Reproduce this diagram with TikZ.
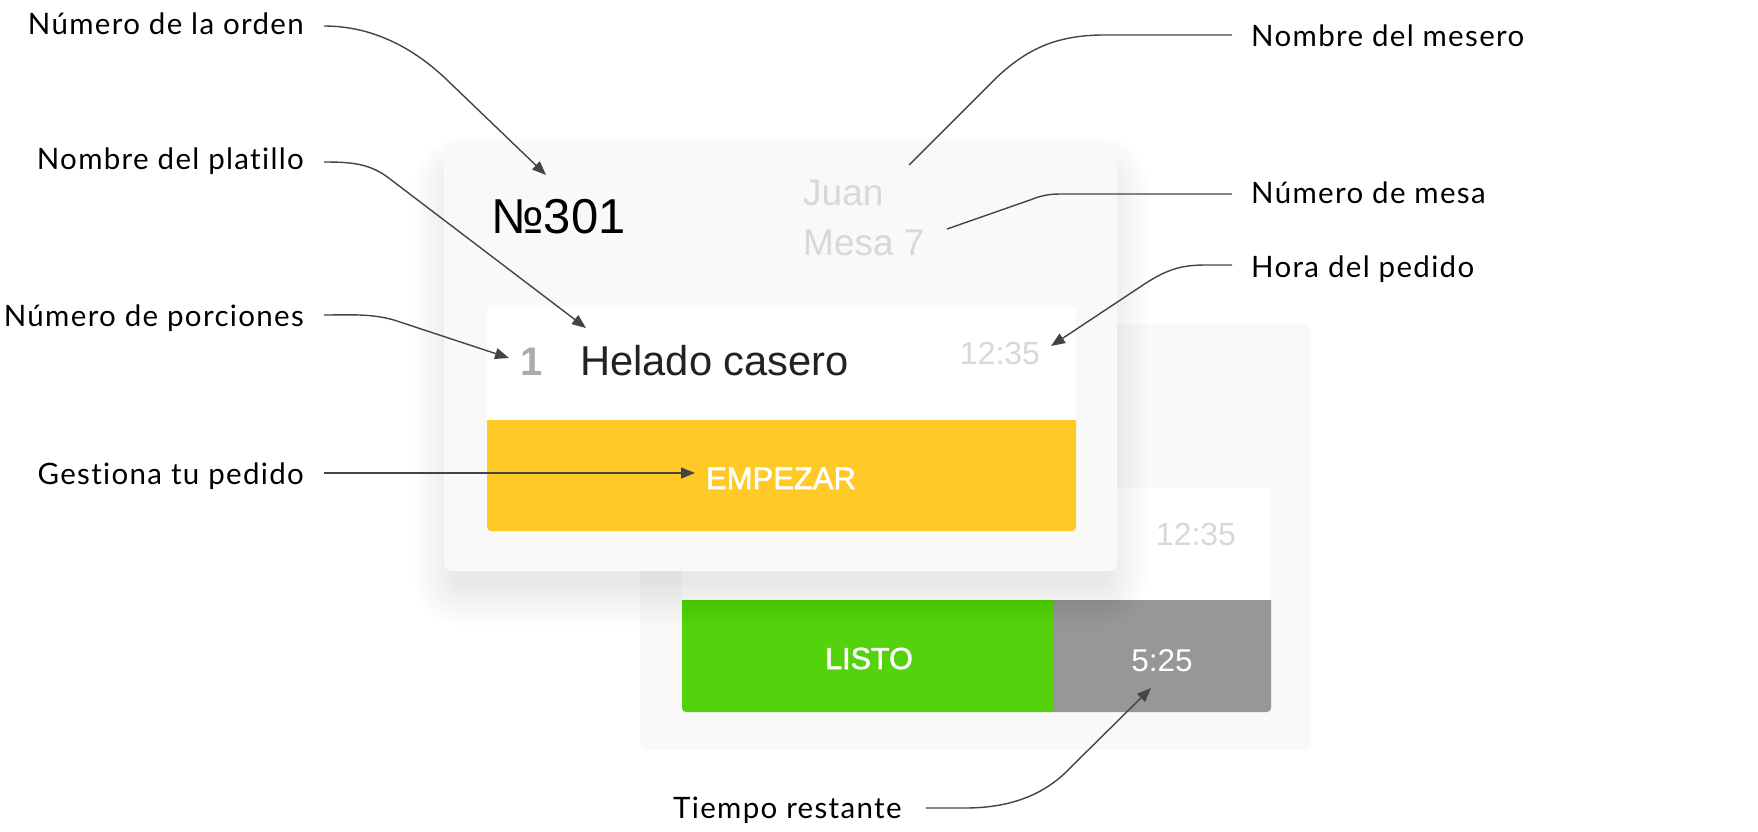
\documentclass[tikz,border=0pt]{standalone}
\usepackage{fontspec}
\setmainfont{Liberation Sans}
\newfontfamily\labfont[LetterSpace=4.5,Ligatures=NoCommon]{Lato}
\newfontfamily\appfont{Liberation Sans}
\newfontfamily\appmed[FakeBold=1.6]{Liberation Sans}
\usetikzlibrary{arrows.meta}
\definecolor{cardbg}{HTML}{F9F9F9}
\definecolor{leader}{HTML}{444444}
\definecolor{amber}{HTML}{FFC928}
\definecolor{limeg}{HTML}{54D30D}
\definecolor{btngrey}{HTML}{979797}
\definecolor{faint}{HTML}{D8D8D8}
\definecolor{numgrey}{HTML}{ABABAB}
\definecolor{inkdark}{HTML}{222222}
\tikzset{
  x=1pt,y=-1pt,
  labelL/.style={inner sep=0pt,anchor=base east,font=\labfont\fontsize{29.5}{34}\selectfont,text=black},
  labelR/.style={inner sep=0pt,anchor=base west,font=\labfont\fontsize{29.5}{34}\selectfont,text=black},
  apptext/.style={inner sep=0pt,font=\appfont\fontsize{#1}{#1}\selectfont},
  btntext/.style={inner sep=0pt,text=white,font=\appmed\fontsize{#1}{#1}\selectfont},
  callout/.style={draw=leader,line width=1.4pt,line join=round},
  calloutarrow/.style={callout,-{Triangle[length=14pt,width=11pt,fill=leader]}},
}
\begin{document}
\begin{tikzpicture}
\useasboundingbox (0,0) rectangle (1758,831);
\fill[white] (0,0) rectangle (1758,831);
% back card
\fill[cardbg,rounded corners=8pt] (640,324) rectangle (1311,750);
\fill[white,rounded corners=4pt] (682,488) rectangle (1271,640);
\fill[limeg] (682,600) -- (1054,600) -- (1054,712) {[rounded corners=4pt] -- (682,712)} -- cycle;
\fill[btngrey] (1054,600) -- (1271,600) {[rounded corners=4pt] -- (1271,712)} -- (1054,712) -- cycle;
% soft shadow of the front card
\foreach \e in {-12,-10,...,32}{
  \pgfmathsetmacro{\rr}{max(\e+20,4)}
  \fill[black,fill opacity=0.005,rounded corners=\rr pt]
    (445-\e,143+24-\e) rectangle (1117+\e,571+24+\e);
}
% front card
\fill[cardbg,rounded corners=8pt] (444,143) rectangle (1117,571);
\fill[white,rounded corners=4pt] (487,307) rectangle (1076,440);
\fill[amber] (487,420) -- (1076,420) {[rounded corners=4pt] -- (1076,531) -- (487,531)} -- cycle;
% app text
\node[apptext=49,anchor=base west,text=black] (num) at (491,233) {№301};
\node[apptext=37,anchor=base west,text=faint] (juan) at (803,205) {Juan};
\node[apptext=37,anchor=base west,text=faint] (mesa) at (803,255) {Mesa 7};
\node[apptext=40,anchor=base,text=numgrey,font=\bfseries\fontsize{40}{40}\selectfont] (qty) at (532,375) {1};
\node[apptext=41.7,anchor=base west,text=inkdark] (dish) at (580,375) {Helado casero};
\node[apptext=32,anchor=base,text=faint] (time1) at (1000,364) {12:35};
\node[apptext=32,anchor=base,text=faint] (time2) at (1196,545) {12:35};
\node[btntext=31,anchor=base] (start) at (781,489) {EMPEZAR};
\node[btntext=30.5,anchor=base] (done) at (869,669) {LISTO};
\node[apptext=31.5,anchor=base,text=white] (remain) at (1162,671) {5:25};
% labels
\node[labelL] (l1) at (304,34) {Número de la orden};
\node[labelL] (l2) at (304,169) {Nombre del platillo};
\node[labelL] (l3) at (304,326) {Número de porciones};
\node[labelL] (l4) at (304,484) {Gestiona tu pedido};
\node[labelR] (r1) at (1251,46) {Nombre del mesero};
\node[labelR] (r2) at (1251,203) {Número de mesa};
\node[labelR] (r3) at (1251,277) {Hora del pedido};
\node[labelR] (b1) at (673,818) {Tiempo restante};
% leader starts, offset from their labels
\path (l1.base east) ++(20,-8) coordinate (a1);
\path (l2.base east) ++(20,-7) coordinate (a2);
\path (l3.base east) ++(20,-11) coordinate (a3);
\path (l4.base east) ++(20,-11) coordinate (a4);
\path (r1.base west) ++(-19,-11) coordinate (a5);
\path (r2.base west) ++(-19,-9) coordinate (a6);
\path (r3.base west) ++(-19,-12) coordinate (a7);
\path (b1.base east) ++(24,-10) coordinate (a8);
% leader ends
\coordinate (t1) at (546,175);
\coordinate (t2) at (586,328);
\coordinate (t3) at (509,358);
\coordinate (t4) at (695,473);
\coordinate (t5) at (909,165);
\coordinate (t6) at (947,229);
\coordinate (t7) at (1051,346);
\coordinate (t8) at (1151,688);
\draw[calloutarrow] (a1) .. controls +(51,0) and (415,50) .. (445,78) -- (t1);
\draw[calloutarrow] (a2) .. controls +(26,0) and (370,163) .. (390,179) -- (t2);
\draw[calloutarrow] (a3) .. controls +(26,0) and (375,313) .. (400,322) -- (t3);
\draw[calloutarrow] (a4) -- (t4);
\draw[callout] (a5) -- (1104,35) .. controls (1055,35) and (1025,50) .. (994,80) -- (t5);
\draw[callout] (a6) -- (1060,194) .. controls (1048,194) and (1040,196) .. (1030,200) -- (t6);
\draw[calloutarrow] (a7) -- (1205,265) .. controls (1180,265) and (1165,270) .. (1140,287) -- (t7);
\draw[calloutarrow] (a8) -- (965,808) .. controls (1010,808) and (1045,795) .. (1071,767) -- (t8);
\end{tikzpicture}
\end{document}
